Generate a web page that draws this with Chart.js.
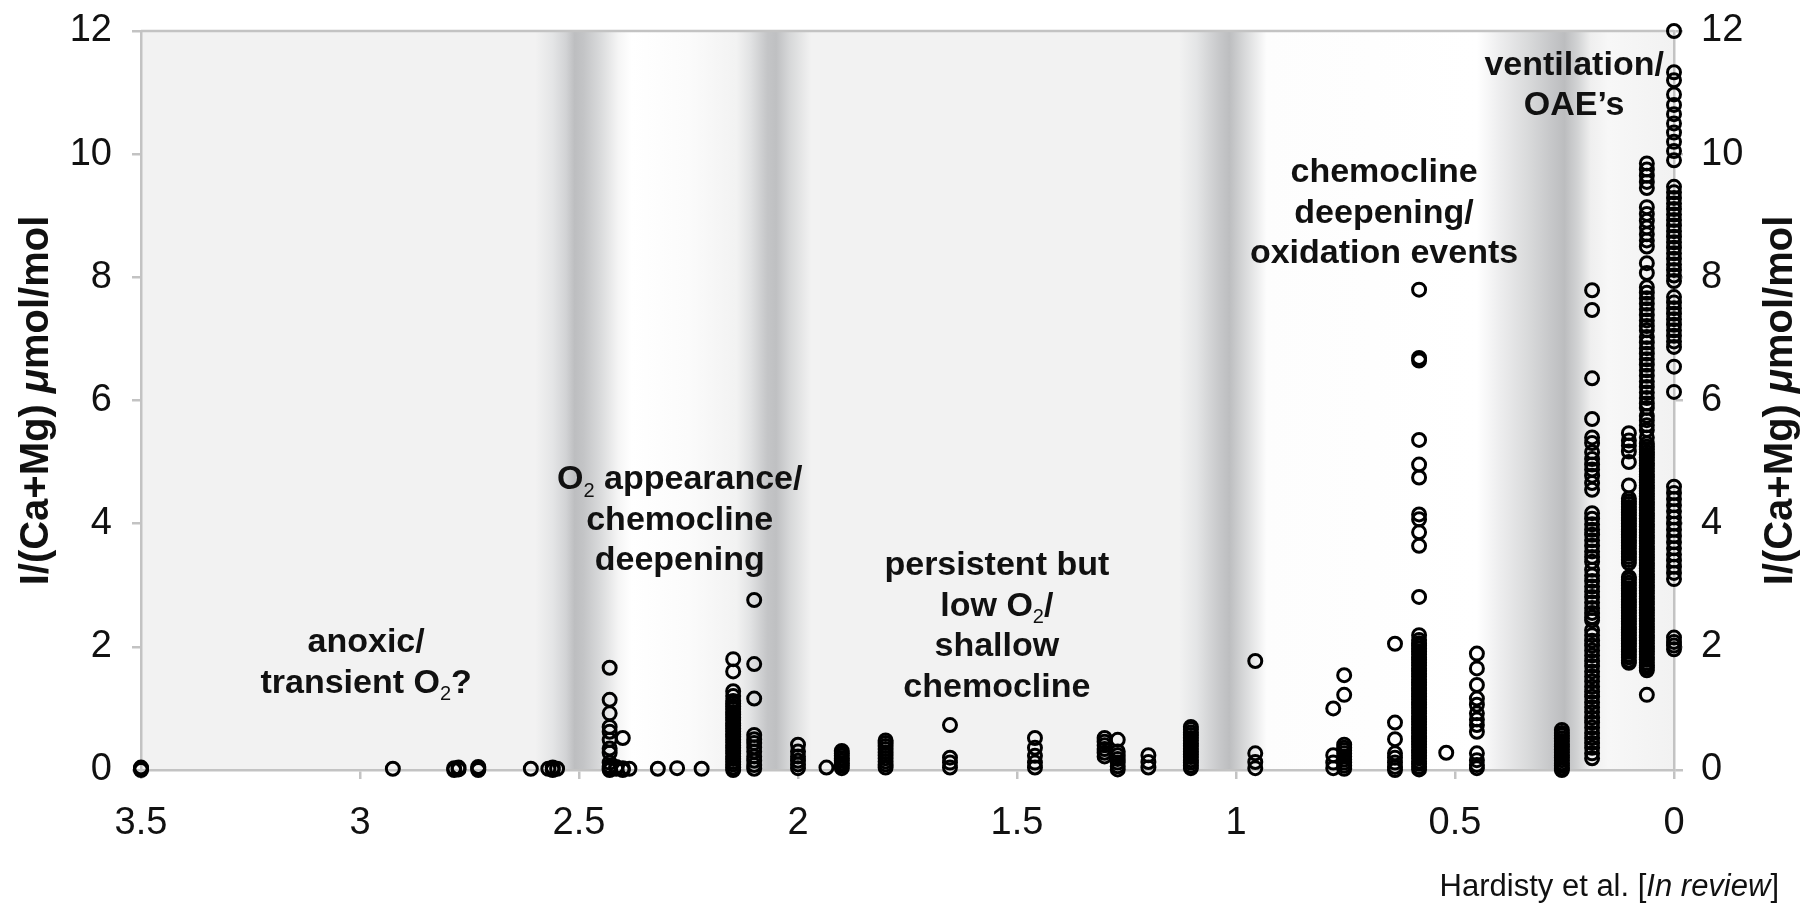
<!DOCTYPE html>
<html>
<head>
<meta charset="utf-8">
<script src="https://cdn.jsdelivr.net/npm/chart.js@4.4.1/dist/chart.umd.min.js"></script>
<style>
html,body{margin:0;padding:0;background:#fff;}
#wrap{width:1814px;height:904px;position:relative;}
</style>
</head>
<body>
<div id="wrap"><canvas id="c"></canvas></div>
<script>
// ---------------- DATA ----------------
// Sample ages (Ga) of each vertical cluster of measurements
const ageGa = [3.50, 2.925, 2.785, 2.775, 2.73, 2.61, 2.57, 2.56, 2.55, 2.43, 2.415, 2.40, 2.385, 2.32, 2.276, 2.22,
  2.148, 2.10, 2.00, 1.935, 1.90, 1.80, 1.653, 1.459, 1.30, 1.27, 1.20, 1.103, 0.956, 0.778, 0.753, 0.637,
  0.582, 0.52, 0.45, 0.256, 0.187, 0.103, 0.062, 0.0];
// I/(Ca+Mg) values (µmol/mol) read for each age above
const iCaMg = [
  [0, 0.02, 0.04],
  [0.02],
  [0.0, 0.03],
  [0.01, 0.04],
  [0.0, 0.02, 0.05],
  [0.02],
  [0.02],
  [0.0, 0.04],
  [0.02],
  [1.66, 1.14, 0.92, 0.7, 0.62, 0.49, 0.35, 0.28, 0.12, 0.06, 0.03, 0.0],
  [0.05, 0.02],
  [0.52, 0.03, 0.0],
  [0.02],
  [0.02],
  [0.03],
  [0.02],
  [1.8, 1.6, 1.28, 1.2, 1.12, 1.08, 1.03, 0.99, 0.94, 0.9, 0.85, 0.81, 0.76, 0.72, 0.67, 0.63, 0.58, 0.54, 0.49, 0.45,
   0.4, 0.36, 0.31, 0.27, 0.22, 0.18, 0.13, 0.09, 0.04, 0.0],
  [2.76, 1.72, 1.16, 0.57, 0.5, 0.44, 0.37, 0.3, 0.22, 0.15, 0.08, 0.02],
  [0.41, 0.3, 0.22, 0.15, 0.09, 0.03],
  [0.04],
  [0.31, 0.27, 0.23, 0.19, 0.15, 0.11, 0.07, 0.03],
  [0.48, 0.44, 0.39, 0.34, 0.29, 0.24, 0.19, 0.14, 0.09, 0.04],
  [0.73, 0.2, 0.12, 0.04],
  [0.52, 0.36, 0.23, 0.12, 0.04],
  [0.52, 0.46, 0.4, 0.34, 0.28, 0.22],
  [0.49, 0.3, 0.24, 0.18, 0.12, 0.06, 0.01],
  [0.24, 0.13, 0.04],
  [0.7, 0.66, 0.61, 0.57, 0.52, 0.48, 0.43, 0.39, 0.34, 0.3, 0.25, 0.21, 0.16, 0.12, 0.07, 0.03],
  [1.77, 0.27, 0.13, 0.03],
  [1.0, 0.24, 0.12, 0.03],
  [1.54, 1.22, 0.41, 0.36, 0.32, 0.27, 0.22, 0.17, 0.12, 0.07, 0.02],
  [2.05, 0.77, 0.5, 0.27, 0.2, 0.12, 0.05, 0.0],
  [7.8, 6.69, 6.65, 5.36, 4.96, 4.75, 4.15, 4.07, 3.86, 3.64, 2.81, 2.19, 2.11, 2.06, 2.02, 1.97, 1.92, 1.88, 1.83, 1.79, 1.74,
   1.7, 1.65, 1.61, 1.56, 1.52, 1.47, 1.42, 1.38, 1.33, 1.29, 1.24, 1.19, 1.15, 1.1, 1.06, 1.01, 0.96, 0.92, 0.87, 0.83, 0.78,
   0.74, 0.69, 0.64, 0.6, 0.55, 0.51, 0.46, 0.42, 0.37, 0.32, 0.28, 0.23, 0.19, 0.14, 0.1, 0.05, 0.01],
  [0.28],
  [1.89, 1.65, 1.38, 1.16, 1.06, 0.92, 0.82, 0.73, 0.62, 0.27, 0.16, 0.08, 0.03],
  [0.65, 0.6, 0.56, 0.51, 0.47, 0.42, 0.38, 0.33, 0.29, 0.24, 0.2, 0.16, 0.11, 0.07, 0.03, 0.0],
  [7.79, 7.47, 6.36, 5.7, 5.4, 5.31, 5.16, 5.05, 4.96, 4.88, 4.78, 4.66, 4.55, 4.17, 4.08, 3.99, 3.9, 3.82, 3.73, 3.64, 3.55,
   3.46, 3.38, 3.25, 3.16, 3.07, 2.98, 2.9, 2.81, 2.72, 2.63, 2.55, 2.48, 2.43, 2.27, 2.19, 2.1, 2.02, 1.94, 1.86, 1.77, 1.69,
   1.6, 1.52, 1.44, 1.35, 1.27, 1.19, 1.1, 1.02, 0.94, 0.85, 0.77, 0.69, 0.6, 0.52, 0.44, 0.36, 0.27, 0.19],
  [5.47, 5.35, 5.27, 5.17, 5.0, 4.62, 4.41, 4.36, 4.32, 4.27, 4.23, 4.18, 4.14, 4.09, 4.05, 4.0, 3.96, 3.91, 3.87, 3.82,
   3.78, 3.73, 3.69, 3.64, 3.6, 3.55, 3.51, 3.46, 3.41, 3.36, 3.13, 3.09, 3.04, 3.0, 2.95, 2.91, 2.86, 2.82, 2.77, 2.73,
   2.68, 2.64, 2.59, 2.55, 2.5, 2.46, 2.41, 2.37, 2.32, 2.28, 2.23, 2.19, 2.14, 2.1, 2.05, 2.01, 1.96, 1.92, 1.87, 1.83,
   1.78, 1.74],
  [9.85, 9.75, 9.65, 9.55, 9.45, 9.14, 9.03, 8.92, 8.81, 8.7, 8.6, 8.5, 8.23, 8.07, 7.84, 7.75, 7.66, 7.57, 7.48, 7.39, 7.3,
   7.21, 7.14, 7.03, 6.94, 6.85, 6.76, 6.67, 6.58, 6.49, 6.4, 6.31, 6.22, 6.13, 6.04, 5.95, 5.88, 5.75, 5.68, 5.6, 5.52, 5.4,
   5.3, 5.25, 5.21, 5.16, 5.12, 5.07, 5.03, 4.98, 4.94, 4.89, 4.85, 4.8, 4.76, 4.71, 4.67, 4.62, 4.58, 4.53, 4.49, 4.44,
   4.4, 4.35, 4.31, 4.26, 4.22, 4.17, 4.13, 4.08, 4.04, 3.99, 3.95, 3.9, 3.86, 3.81, 3.77, 3.72, 3.68, 3.63, 3.59, 3.54,
   3.5, 3.45, 3.41, 3.36, 3.32, 3.27, 3.23, 3.18, 3.14, 3.09, 3.05, 3.0, 2.96, 2.91, 2.87, 2.82, 2.78, 2.73, 2.69, 2.64,
   2.6, 2.55, 2.51, 2.46, 2.42, 2.37, 2.33, 2.28, 2.24, 2.19, 2.15, 2.1, 2.06, 2.01, 1.97, 1.92, 1.88, 1.83, 1.79, 1.74,
   1.7, 1.66, 1.62, 1.22],
  [12.0, 11.33, 11.2, 10.97, 10.8, 10.65, 10.5, 10.35, 10.2, 10.05, 9.9, 9.47, 9.38, 9.29, 9.2, 9.11, 9.02, 8.93, 8.84, 8.75,
   8.66, 8.57, 8.48, 8.39, 8.3, 8.21, 8.12, 8.03, 7.94, 7.68, 7.59, 7.5, 7.41, 7.32, 7.23, 7.14, 7.05, 6.96, 6.87, 6.55, 6.14,
   4.6, 4.5, 4.4, 4.3, 4.2, 4.1, 4.0, 3.9, 3.8, 3.7, 3.6, 3.5, 3.4, 3.3, 3.2, 3.1, 2.15, 2.08, 2.02, 1.96]
];
const xTickValues = [3.5, 3, 2.5, 2, 1.5, 1, 0.5, 0];
const yTickValues = [0, 2, 4, 6, 8, 10, 12];
const annotationTexts = [
  ['anoxic/', 'transient O\u2082?'],
  ['O\u2082 appearance/', 'chemocline', 'deepening'],
  ['persistent but', 'low O\u2082/', 'shallow', 'chemocline'],
  ['chemocline', 'deepening/', 'oxidation events'],
  ['ventilation/', 'OAE\u2019s']
];
const yTitleParts = ['I/(Ca+Mg) ', '\u03BC', 'mol/mol'];
const sourceParts = ['Hardisty et al. [', 'In review', ']'];

// ---------------- STYLE / LAYOUT ----------------
// anchor (age, value) for the first line of each annotation block
const annotationAnchors = [
  {x: 2.986, y: 2.11}, {x: 2.27, y: 4.76}, {x: 1.546, y: 3.36}, {x: 0.662, y: 9.74}, {x: 0.228, y: 11.49}
];
const bandGradient = [
  [3.5, '#f2f2f2'], [2.6, '#f2f2f2'], [2.56, '#e4e5e6'], [2.53, '#d2d3d5'], [2.51, '#bdbec0'], [2.49, '#c3c4c6'],
  [2.45, '#dadbdc'], [2.41, '#f5f5f5'], [2.38, '#ffffff'], [2.25, '#fbfbfb'], [2.14, '#f2f2f2'],
  [2.11, '#e2e3e4'], [2.07, '#c4c5c7'], [2.05, '#bfc0c2'], [2.02, '#d6d7d8'], [1.97, '#f2f2f2'],
  [1.13, '#f2f2f2'], [1.09, '#e4e5e6'], [1.04, '#c8c9cb'], [1.015, '#bdbec0'], [0.98, '#d8d9da'], [0.93, '#fdfdfd'],
  [0.45, '#ffffff'], [0.4, '#eeeeef'], [0.33, '#d8d9da'], [0.28, '#c6c7c9'], [0.25, '#bcbdbf'], [0.22, '#d2d3d4'],
  [0.19, '#efefef'], [0.15, '#f7f7f7'], [0.0, '#f2f2f2']
];
const frameColor = '#c3c3c3';
const FONT = '"Liberation Sans", Arial, Helvetica, sans-serif';

const points = [];
ageGa.forEach((a, i) => iCaMg[i].forEach(v => points.push({x: a, y: v})));

function drawRich(ctx, text, cx, cy, size) {
  const segs = [];
  let buf = '';
  for (const ch of text) {
    if (ch === '\u2082') { if (buf) segs.push({t: buf, sub: false}); buf = ''; segs.push({t: '2', sub: true}); }
    else buf += ch;
  }
  if (buf) segs.push({t: buf, sub: false});
  const main = 'bold ' + size + 'px ' + FONT;
  const subSize = Math.round(size * 0.58);
  const sub = subSize + 'px ' + FONT;
  let w = 0;
  for (const s of segs) { ctx.font = s.sub ? sub : main; s.w = ctx.measureText(s.t).width; w += s.w; }
  let x = cx - w / 2;
  const base = cy + size * 0.36;
  ctx.textAlign = 'left';
  ctx.textBaseline = 'alphabetic';
  for (const s of segs) {
    ctx.font = s.sub ? sub : main;
    ctx.fillText(s.t, x, s.sub ? base + size * 0.22 : base);
    x += s.w;
  }
}

const bgPlugin = {
  id: 'bgPlugin',
  beforeDraw(chart) {
    const {ctx, chartArea: a} = chart;
    const xs = chart.scales.x;
    ctx.save();
    ctx.fillStyle = '#ffffff';
    ctx.fillRect(0, 0, chart.width, chart.height);
    const g = ctx.createLinearGradient(a.left, 0, a.right, 0);
    for (const [v, col] of bandGradient) {
      let off = (xs.getPixelForValue(v) - a.left) / (a.right - a.left);
      g.addColorStop(Math.min(1, Math.max(0, off)), col);
    }
    ctx.fillStyle = g;
    ctx.fillRect(a.left, a.top, a.right - a.left, a.bottom - a.top);
    ctx.strokeStyle = frameColor;
    ctx.lineWidth = 2.5;
    ctx.beginPath();
    ctx.moveTo(a.left, a.top);
    ctx.lineTo(a.right, a.top);
    ctx.stroke();
    ctx.restore();
  },
  beforeDatasetsDraw(chart) {
    const {ctx} = chart;
    const xs = chart.scales.x, ys = chart.scales.y;
    ctx.save();
    ctx.fillStyle = '#111111';
    annotationTexts.forEach((lines, i) => {
      const cx = xs.getPixelForValue(annotationAnchors[i].x);
      const cy = ys.getPixelForValue(annotationAnchors[i].y);
      lines.forEach((ln, j) => drawRich(ctx, ln, cx, cy + j * 40.5, 34));
    });
    ctx.restore();
  },
  afterDraw(chart) {
    const {ctx, chartArea: a} = chart;
    ctx.save();
    const fonts = ['bold 40px ' + FONT, 'italic bold 40px ' + FONT, 'bold 40px ' + FONT];
    let tw = 0;
    const ws = yTitleParts.map((t, k) => { ctx.font = fonts[k]; const w = ctx.measureText(t).width; tw += w; return w; });
    const cyMid = (a.top + a.bottom) / 2;
    for (const cxT of [35, 1779]) {
      ctx.save();
      ctx.translate(cxT, cyMid);
      ctx.rotate(-Math.PI / 2);
      ctx.fillStyle = '#111111';
      ctx.textBaseline = 'middle';
      ctx.textAlign = 'left';
      let x = -tw / 2;
      yTitleParts.forEach((t, k) => { ctx.font = fonts[k]; ctx.fillText(t, x, 2); x += ws[k]; });
      ctx.restore();
    }
    const sf = ['31px ' + FONT, 'italic 31px ' + FONT, '31px ' + FONT];
    const sw = sourceParts.map((t, k) => { ctx.font = sf[k]; return ctx.measureText(t).width; });
    let sx = 1779 - sw.reduce((p, c) => p + c, 0);
    ctx.fillStyle = '#111111';
    ctx.textBaseline = 'alphabetic';
    ctx.textAlign = 'left';
    sourceParts.forEach((t, k) => { ctx.font = sf[k]; ctx.fillText(t, sx, 896); sx += sw[k]; });
    ctx.restore();
  }
};

const tickFont = {family: FONT, size: 38};
const gridCfg = {display: true, drawOnChartArea: false, drawTicks: true, tickLength: 9, color: frameColor, lineWidth: 2.5};
const borderCfg = {display: true, color: frameColor, width: 2.5};
const plainLabel = v => String(v);
const fitY = w => s => { s.width = w; s.paddingTop = 0; s.paddingBottom = 0; };

new Chart(document.getElementById('c'), {
  type: 'scatter',
  data: {
    datasets: [{
      data: points,
      pointStyle: 'circle',
      pointRadius: 6.5,
      pointHoverRadius: 6.5,
      pointBorderWidth: 3,
      borderColor: '#000000',
      backgroundColor: 'rgba(0,0,0,0)',
      showLine: false,
      clip: false
    }]
  },
  options: {
    responsive: true,
    maintainAspectRatio: false,
    animation: false,
    events: [],
    layout: {padding: {top: 31, left: 0, right: 0, bottom: 0}},
    plugins: {legend: {display: false}, tooltip: {enabled: false}},
    scales: {
      x: {
        type: 'linear', position: 'bottom', reverse: true, min: 0, max: 3.5,
        afterBuildTicks: s => { s.ticks = xTickValues.map(v => ({value: v})); },
        afterFit: s => { s.height = 134; s.paddingLeft = 0; s.paddingRight = 0; },
        ticks: {font: tickFont, color: '#111111', padding: 22, maxRotation: 0, autoSkip: false, callback: plainLabel},
        grid: gridCfg, border: borderCfg
      },
      y: {
        type: 'linear', position: 'left', min: 0, max: 12,
        afterBuildTicks: s => { s.ticks = yTickValues.map(v => ({value: v})); },
        afterFit: fitY(141),
        ticks: {font: tickFont, color: '#111111', padding: 20, callback: plainLabel},
        grid: gridCfg, border: borderCfg
      },
      yRight: {
        type: 'linear', position: 'right', min: 0, max: 12,
        afterBuildTicks: s => { s.ticks = yTickValues.map(v => ({value: v})); },
        afterFit: fitY(140),
        ticks: {font: tickFont, color: '#111111', padding: 18, callback: plainLabel},
        grid: gridCfg, border: borderCfg
      }
    }
  },
  plugins: [bgPlugin]
});
</script>
</body>
</html>
